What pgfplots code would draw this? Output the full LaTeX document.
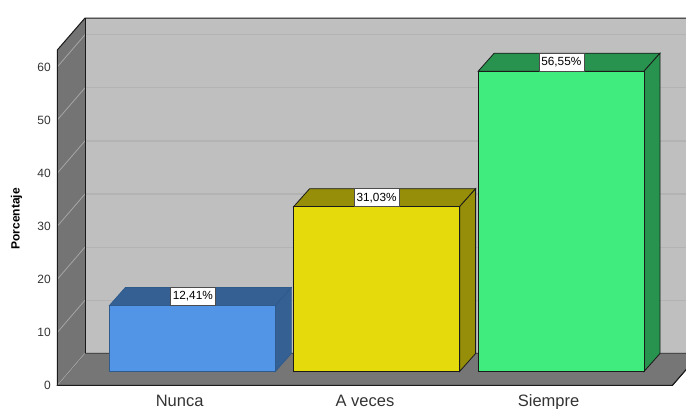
\documentclass[border=0pt]{standalone}
\usepackage{pgfplots}
\pgfplotsset{compat=1.18}
\usepackage{fontspec}
\setmainfont{Liberation Sans}
\definecolor{wallc}{HTML}{BFBFBF}
\definecolor{sidec}{HTML}{747474}
\definecolor{floorc}{HTML}{767676}
\definecolor{gridb}{HTML}{B3B3B3}
\definecolor{grids}{HTML}{A6A6A6}
\definecolor{edgec}{HTML}{1A1A1A}
\definecolor{blueF}{HTML}{5294E6}
\definecolor{blueT}{HTML}{346094}
\definecolor{blueE}{HTML}{2F5A8C}
\definecolor{yelF}{HTML}{E5DA0C}
\definecolor{yelT}{HTML}{968E08}
\definecolor{greF}{HTML}{41EC7F}
\definecolor{greT}{HTML}{28934F}
\definecolor{txt}{HTML}{333333}
\pgfplotsset{base/.style={
  anchor=south west, at={(0pt,0pt)},
  scale only axis, width=686pt, height=409pt,
  xmin=0, xmax=686,
  clip=true}}
\begin{document}
\begin{tikzpicture}[x=1pt,y=1pt]
\path[use as bounding box] (0,0) rectangle (686,409);
% room: y is the percentage on the front plane of the walls
\begin{axis}[base,
  ymin=-4.426, ymax=72.6,
  axis line style={draw=none},
  major tick length=0pt,
  ytick={0,10,20,30,40,50,60},
  xtick={179.6,365,548.6},
  xticklabels={Nunca,A veces,Siempre},
  x tick label style={font=\fontsize{16.5}{18}\selectfont, text=txt, anchor=base, yshift=2pt, inner sep=0pt},
  y tick label style={font=\fontsize{12}{14}\selectfont, text=txt, anchor=east, xshift=51pt, inner sep=0pt},
  /pgf/number format/assume math mode=true,
]
% back wall
\addplot[draw=none, fill=wallc] coordinates {(85,69.2)(720,69.2)(720,6.06)(85,6.06)} --cycle;
% floor
\addplot[draw=edgec, line width=0.8pt, fill=floorc] coordinates {(57.3,0)(85,6.06)(700.3,6.06)(672.3,0)} --cycle;
% side wall
\addplot[draw=none, fill=sidec] coordinates {(57.3,0)(57.3,63.18)(85,69.2)(85,6.06)} --cycle;
% grid lines, back wall
\addplot[gridb, line width=1.2pt] coordinates {(85,16.06)(700,16.06)};
\addplot[gridb, line width=1.2pt] coordinates {(85,26.06)(700,26.06)};
\addplot[gridb, line width=1.2pt] coordinates {(85,36.06)(700,36.06)};
\addplot[gridb, line width=1.2pt] coordinates {(85,46.06)(700,46.06)};
\addplot[gridb, line width=1.2pt] coordinates {(85,56.06)(700,56.06)};
\addplot[gridb, line width=1.2pt] coordinates {(85,66.06)(700,66.06)};
% grid lines, side wall
\addplot[grids, line width=0.8pt] coordinates {(57.3,0)(85,6.06)};
\addplot[grids, line width=0.8pt] coordinates {(57.3,10)(85,16.06)};
\addplot[grids, line width=0.8pt] coordinates {(57.3,20)(85,26.06)};
\addplot[grids, line width=0.8pt] coordinates {(57.3,30)(85,36.06)};
\addplot[grids, line width=0.8pt] coordinates {(57.3,40)(85,46.06)};
\addplot[grids, line width=0.8pt] coordinates {(57.3,50)(85,56.06)};
\addplot[grids, line width=0.8pt] coordinates {(57.3,60)(85,66.06)};
% outlines
\addplot[edgec, line width=1pt] coordinates {(57.3,0)(57.3,63.18)(85,69.2)(720,69.2)};
\addplot[edgec, line width=1pt] coordinates {(85,69.2)(85,6.06)};
\addplot[edgec, line width=1pt] coordinates {(57.3,0)(672.3,0)(700.3,6.06)};
\end{axis}
% bars: y is the percentage, 0 at the foot of the bars
\begin{axis}[base, hide axis,
  ymin=-7.062, ymax=69.96]
% Nunca
\addplot[draw=blueE, line width=0.7pt, fill=blueT] coordinates {(109.3,12.41)(125.3,15.8)(291.3,15.8)(275.3,12.41)} --cycle;
\addplot[draw=blueE, line width=0.7pt, fill=blueT] coordinates {(275.3,0)(291.3,3.39)(291.3,15.8)(275.3,12.41)} --cycle;
\addplot[ybar, bar width=166pt, bar shift=0pt, draw=blueE, line width=0.7pt, fill=blueF] coordinates {(192.3,12.41)};
% A veces
\addplot[draw=edgec, line width=0.8pt, fill=yelT] coordinates {(293.6,31.03)(309.6,34.42)(475.6,34.42)(459.6,31.03)} --cycle;
\addplot[draw=edgec, line width=0.8pt, fill=yelT] coordinates {(459.6,0)(475.6,3.39)(475.6,34.42)(459.6,31.03)} --cycle;
\addplot[ybar, bar width=166pt, bar shift=0pt, draw=edgec, line width=0.8pt, fill=yelF] coordinates {(376.6,31.03)};
% Siempre
\addplot[draw=edgec, line width=0.8pt, fill=greT] coordinates {(478.2,56.55)(494.2,59.94)(660,59.94)(644,56.55)} --cycle;
\addplot[draw=edgec, line width=0.8pt, fill=greT] coordinates {(644,0)(660,3.39)(660,59.94)(644,56.55)} --cycle;
\addplot[ybar, bar width=165.8pt, bar shift=0pt, draw=edgec, line width=0.8pt, fill=greF] coordinates {(561.1,56.55)};
% value labels
\tikzset{vl/.style={draw=black!70, line width=0.5pt, fill=white, text=black, inner sep=0pt,
  minimum width=45pt, minimum height=18pt, font=\fontsize{11.8}{13}\selectfont}}
\node[vl] at (axis cs:192.8,14.1) {12,41\%};
\node[vl] at (axis cs:376.6,32.72) {31,03\%};
\node[vl] at (axis cs:561.3,58.24) {56,55\%};
\end{axis}
\node[rotate=90, font=\fontsize{12}{14}\selectfont\bfseries, text=black] at (16.5,190) {Porcentaje};
\end{tikzpicture}
\end{document}
